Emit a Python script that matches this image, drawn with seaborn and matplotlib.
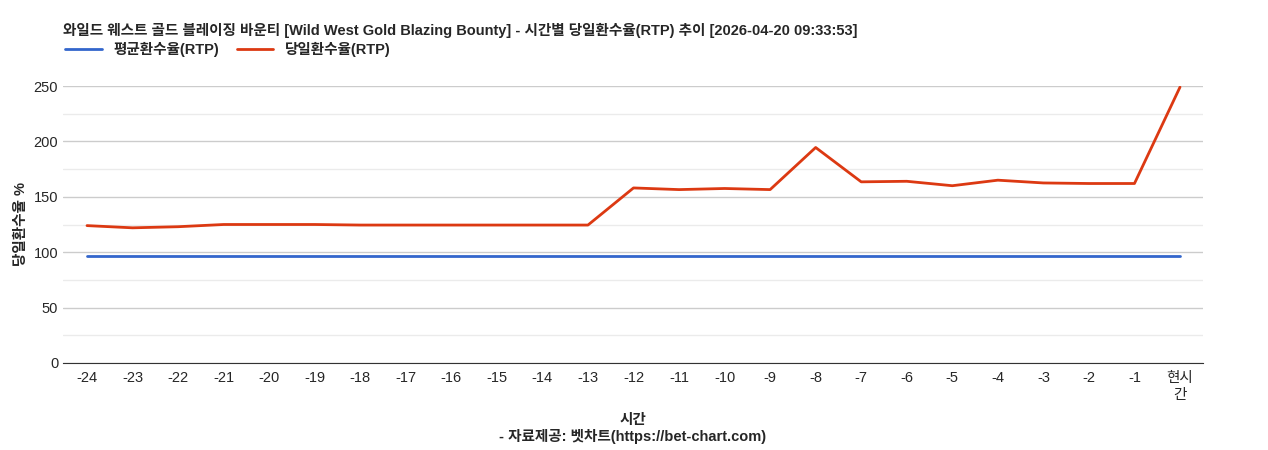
import matplotlib
matplotlib.use("Agg")
import matplotlib.pyplot as plt
import seaborn as sns
import pandas as pd

hours = [str(h) for h in range(-24, 0)] + ["현시\n간"]
avg_rtp = [96.6] * 25
day_rtp = [124, 122, 123, 125, 125, 125, 124.5, 124.5, 124.5, 124.5, 124.5, 124.5,
           158, 156.5, 157.5, 156.5, 194.5, 163.5, 164, 160, 165, 162.5, 162, 162, 249]

sns.set_style("white")
plt.rcParams['font.family'] = ['Liberation Sans', 'Noto Sans CJK KR', 'DejaVu Sans']

df = pd.DataFrame({'x': range(len(hours)), 'avg': avg_rtp, 'day': day_rtp})

fig = plt.figure(figsize=(12.68, 4.5), dpi=100)
ax = fig.add_axes([63 / 1268, 1 - 363 / 450, 1140 / 1268, 277 / 450])

sns.lineplot(data=df, x='x', y='avg', color='#3366cc', linewidth=2, ax=ax, label='평균환수율(RTP)')
sns.lineplot(data=df, x='x', y='day', color='#dc3912', linewidth=2, ax=ax, label='당일환수율(RTP)')

ax.set_ylim(0, 250)
ax.set_xlim(-0.527, 24.505)
ax.set_yticks(range(0, 251, 50))
ax.set_yticks(range(25, 250, 50), minor=True)
ax.grid(axis='y', which='major', color='#cccccc', linewidth=1)
ax.grid(axis='y', which='minor', color='#ebebeb', linewidth=1)
ax.set_axisbelow(True)
ax.set_xticks(range(len(hours)))
ax.set_xticklabels(hours)
ax.tick_params(axis='both', labelsize=10.5, length=0)
ax.tick_params(axis='x', pad=6)
for s in ['top', 'right', 'left']:
    ax.spines[s].set_visible(False)
ax.spines['bottom'].set_color('#333333')

ax.set_xlabel('시간\n- 자료제공: 벳차트(https://bet-chart.com)', fontsize=10.5, fontweight='bold', labelpad=8)
ax.set_ylabel('당일환수율 %', fontsize=10.5, fontweight='bold')

fig.text(63 / 1268, 1 - 30 / 450,
         '와일드 웨스트 골드 블레이징 바운티 [Wild West Gold Blazing Bounty] - 시간별 당일환수율(RTP) 추이 [2026-04-20 09:33:53]',
         fontsize=10.5, fontweight='bold', va='center')
ax.legend(loc='upper left', bbox_to_anchor=(-0.003, 1 + 50 / 277), ncol=2, frameon=False,
          handlelength=2.5, borderaxespad=0, columnspacing=1.2,
          prop={'weight': 'bold', 'size': 10.5})

fig.savefig('out.png', dpi=100)
